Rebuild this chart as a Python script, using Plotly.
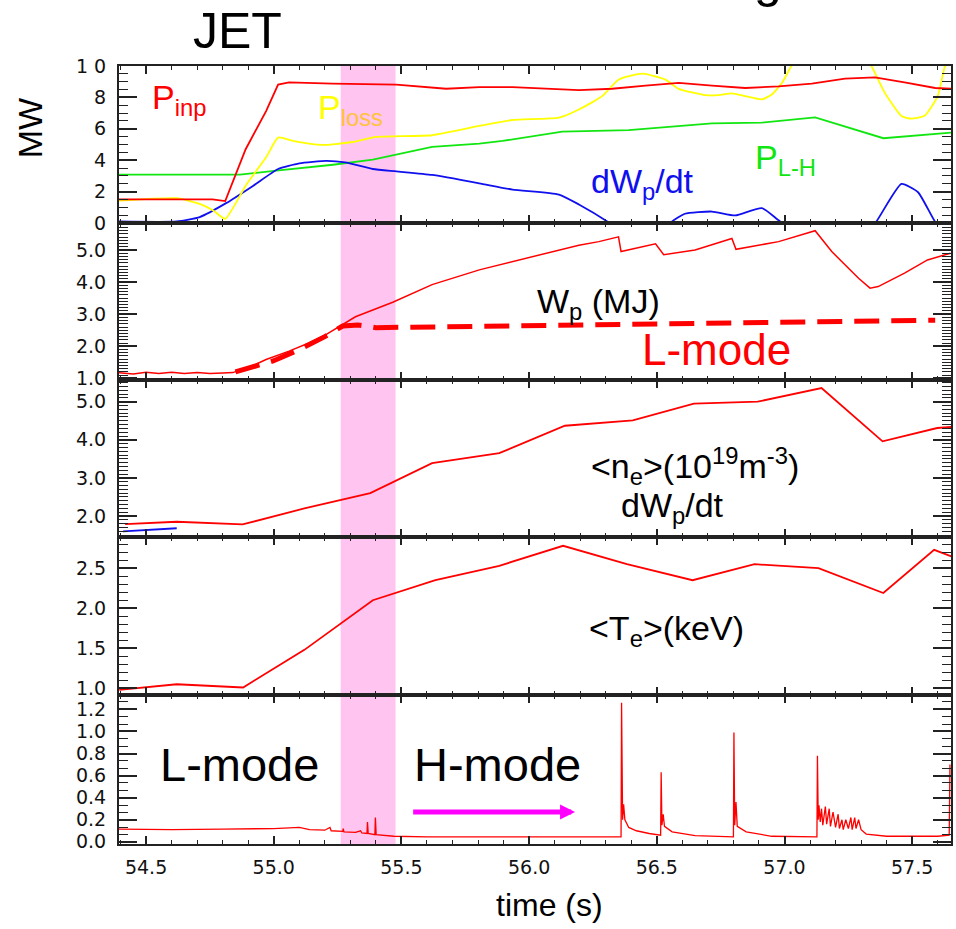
import plotly.graph_objects as go

# ---------------- data ----------------
# Panel 1: powers (MW)
t_pinp = [54.39, 54.645, 54.76, 54.81, 54.89, 54.97, 55.017, 55.06, 55.23, 55.48, 55.62, 55.675, 55.805,
          55.935, 56.195, 56.325, 56.456, 56.586, 56.716, 56.846, 56.977, 57.107, 57.237, 57.354, 57.47, 57.59, 57.654]
pinp = [1.5, 1.5, 1.5, 1.4, 4.7, 7.13, 8.82, 8.96, 8.88, 8.82, 8.6, 8.55, 8.65,
        8.65, 8.46, 8.55, 8.75, 8.92, 8.75, 8.6, 8.7, 8.88, 9.2, 9.28, 8.96, 8.6, 8.55]

t_ploss = [54.39, 54.62, 54.71, 54.763, 54.81, 54.89, 54.97, 55.017, 55.075, 55.19, 55.31, 55.40, 55.62, 55.805,
           55.935, 56.117, 56.195, 56.286, 56.35, 56.443, 56.534, 56.586, 56.69, 56.742, 56.794, 56.846, 56.911,
           56.95, 56.99, 57.028, 57.08, 57.29, 57.341, 57.393, 57.458, 57.497, 57.55, 57.60, 57.628, 57.66]
ploss = [1.43, 1.58, 1.22, 0.8, 0.27, 2.38, 4.18, 5.44, 5.23, 4.97, 5.16, 5.48, 5.59, 6.18,
         6.56, 6.71, 7.23, 8.08, 9.13, 9.51, 9.13, 8.54, 8.14, 8.14, 8.25, 8.08, 7.87,
         8.18, 8.92, 10.04, 11.5, 11.5, 10.0, 8.29, 6.81, 6.65, 6.85, 8.08, 9.97, 11.0]

t_plh = [54.39, 54.867, 55.01, 55.232, 55.388, 55.492, 55.62, 55.805, 55.896, 56.13, 56.39, 56.716, 56.911,
         57.12, 57.387, 57.654]
plh = [3.08, 3.08, 3.33, 3.71, 4.03, 4.39, 4.85, 5.06, 5.23, 5.82, 5.92, 6.35, 6.39, 6.73, 5.4, 5.76]

t_dwdt = [54.39, 54.62, 54.71, 54.815, 54.92, 55.017, 55.1, 55.206, 55.28, 55.388, 55.48, 55.62, 55.805,
          55.935, 56.117, 56.195, 56.306, 56.4, 56.5, 56.56, 56.61, 56.716, 56.807, 56.911, 56.983, 57.1,
          57.3, 57.36, 57.458, 57.523, 57.589, 57.65]
dwdt = [0.1, 0.1, 0.38, 1.28, 2.38, 3.44, 3.8, 3.96, 3.86, 3.44, 3.29, 3.06, 2.53,
        2.13, 1.81, 1.18, 0.1, -1.0, -1.0, 0.1, 0.59, 0.73, 0.48, 0.95, 0.1, -1.0,
        -1.0, 0.1, 2.49, 1.96, 0.1, -1.0]

# Panel 2: stored energy (MJ)
t_wp = [54.39, 54.45, 54.5, 54.55, 54.6, 54.65, 54.7, 54.75, 54.8, 54.84, 54.93, 54.97, 55.06, 55.14, 55.206,
        55.28, 55.32, 55.466, 55.62, 55.805, 55.934, 56.065, 56.195, 56.273, 56.35, 56.36, 56.495, 56.527,
        56.65, 56.794, 56.81, 56.977, 57.12, 57.185, 57.237, 57.29, 57.335, 57.367, 57.47, 57.56, 57.65]
wp = [1.18, 1.14, 1.19, 1.15, 1.19, 1.15, 1.18, 1.15, 1.17, 1.18, 1.44, 1.59, 1.85, 2.11, 2.37,
      2.73, 2.92, 3.37, 3.92, 4.38, 4.64, 4.90, 5.15, 5.26, 5.41, 4.95, 5.19, 4.85,
      5.0, 5.36, 5.02, 5.26, 5.6, 4.95, 4.54, 4.12, 3.81, 3.86, 4.28, 4.69, 4.90]

t_lmode = [54.85, 55.0, 55.1, 55.2, 55.27, 55.33, 55.4, 57.59]
wp_lmode = [1.2, 1.55, 1.9, 2.3, 2.63, 2.66, 2.58, 2.81]

# Panel 3: density
t_ne = [54.418, 54.62, 54.878, 55.12, 55.378, 55.62, 55.883, 56.14, 56.406, 56.645, 56.895, 57.145, 57.384,
        57.598, 57.66]
ne = [1.79, 1.85, 1.78, 2.2, 2.6, 3.39, 3.65, 4.37, 4.51, 4.95, 5.0, 5.36, 3.96, 4.31, 4.34]
t_ne_blue = [54.41, 54.62]
ne_blue = [1.6, 1.68]

# Panel 4: temperature
t_te = [54.395, 54.62, 54.88, 55.12, 55.388, 55.633, 55.883, 56.133, 56.383, 56.64, 56.883, 57.133, 57.387,
        57.586, 57.66]
te = [0.98, 1.05, 1.01, 1.48, 2.10, 2.35, 2.53, 2.78, 2.55, 2.35, 2.55, 2.50, 2.19, 2.73, 2.64]

# Panel 5: D-alpha
t_da = [54.39, 54.6, 54.8, 55.0, 55.1, 55.14, 55.2, 55.22, 55.225, 55.27, 55.272, 55.275, 55.32, 55.34, 55.345,
        55.365, 55.367, 55.37, 55.396, 55.398, 55.401, 55.47, 55.6, 56.0, 56.36, 56.362, 56.366, 56.370,
        56.375, 56.39, 56.42, 56.47, 56.515, 56.517, 56.52, 56.525, 56.53, 56.56, 56.65, 56.80, 56.802,
        56.805, 56.81, 56.815, 56.85, 56.95, 57.127, 57.129, 57.132, 57.135, 57.14, 57.145, 57.15, 57.16,
        57.165, 57.175, 57.18, 57.19, 57.2, 57.21, 57.215, 57.225, 57.23, 57.24, 57.25, 57.26, 57.265,
        57.275, 57.28, 57.29, 57.30, 57.32, 57.4, 57.6, 57.645, 57.648]
da = [0.115, 0.11, 0.115, 0.12, 0.13, 0.11, 0.105, 0.13, 0.1, 0.095, 0.12, 0.09, 0.085, 0.10, 0.08,
      0.075, 0.18, 0.075, 0.065, 0.22, 0.065, 0.05, 0.045, 0.045, 0.045, 1.26, 0.2, 0.34,
      0.2, 0.13, 0.1, 0.075, 0.06, 0.63, 0.15, 0.25, 0.14, 0.09, 0.055, 0.045, 0.99,
      0.15, 0.36, 0.14, 0.09, 0.05, 0.045, 0.78, 0.2, 0.33, 0.18, 0.3, 0.15, 0.32,
      0.16, 0.3, 0.14, 0.27, 0.13, 0.25, 0.12, 0.2, 0.11, 0.2, 0.12, 0.22, 0.11,
      0.22, 0.12, 0.2, 0.11, 0.07, 0.05, 0.05, 0.06, 0.7]

band = [55.262, 55.477]
xrange_ = [54.394, 57.652]

# ---------------- figure ----------------
W, H = 956, 929
L, R, T, B = 119, 3, 66, 85
PW, PH = W - L - R, H - T - B


def px(x):
    return (x - L) / PW


def py(y):
    return (H - B - y) / PH


# panel pixel boundaries (top, bottom)
edges = [(66, 223), (223, 380), (380, 537), (537, 695), (695, 844)]
domains = [[py(b), py(t)] for t, b in edges]

RED, YEL, GRN, BLU = "#FF0000", "#FFFF00", "#11E611", "#1010EE"

fig = go.Figure()
fig.add_trace(go.Scatter(x=t_plh, y=plh, mode="lines", line=dict(color=GRN, width=1.8), xaxis="x", yaxis="y"))
fig.add_trace(go.Scatter(x=t_dwdt, y=dwdt, mode="lines", line=dict(color=BLU, width=1.8, shape="spline", smoothing=0.5), xaxis="x", yaxis="y"))
fig.add_trace(go.Scatter(x=t_ploss, y=ploss, mode="lines", line=dict(color=YEL, width=1.8, shape="spline", smoothing=0.5), xaxis="x", yaxis="y"))
fig.add_trace(go.Scatter(x=t_pinp, y=pinp, mode="lines", line=dict(color=RED, width=1.8), xaxis="x", yaxis="y"))

fig.add_trace(go.Scatter(x=t_lmode, y=wp_lmode, mode="lines", line=dict(color=RED, width=5, dash="25px,12px"), xaxis="x2", yaxis="y2"))
fig.add_trace(go.Scatter(x=t_wp, y=wp, mode="lines", line=dict(color=RED, width=1.5), xaxis="x2", yaxis="y2"))

fig.add_trace(go.Scatter(x=t_ne_blue, y=ne_blue, mode="lines", line=dict(color=BLU, width=1.8), xaxis="x3", yaxis="y3"))
fig.add_trace(go.Scatter(x=t_ne, y=ne, mode="lines", line=dict(color=RED, width=1.8), xaxis="x3", yaxis="y3"))

fig.add_trace(go.Scatter(x=t_te, y=te, mode="lines", line=dict(color=RED, width=1.8), xaxis="x4", yaxis="y4"))

fig.add_trace(go.Scatter(x=t_da, y=da, mode="lines", line=dict(color=RED, width=1.3), xaxis="x5", yaxis="y5"))

AX = "#222222"
xcommon = dict(range=xrange_, showgrid=False, zeroline=False, showline=True, linecolor=AX, linewidth=2,
               mirror="allticks", ticks="inside", ticklen=8, tickwidth=1.5, tickcolor=AX,
               tick0=54.5, dtick=0.5, tickformat=".1f",
               minor=dict(ticks="inside", ticklen=4, tickwidth=1.2, tickcolor=AX, tick0=54.5, dtick=0.1),
               tickfont=dict(family="DejaVu Sans", size=19, color="#111"), ticklabelstandoff=5)
ycommon = dict(showgrid=False, zeroline=False, showline=True, linecolor=AX, linewidth=2,
               mirror="allticks", ticks="inside", ticklen=18, tickwidth=1.5, tickcolor=AX,
               tickfont=dict(family="DejaVu Sans", size=19, color="#111"), ticklabelstandoff=7)

yspecs = [
    dict(range=[0.0, 10.0], tickvals=[0, 2, 4, 6, 8, 10], ticktext=["0", "2", "4", "6", "8", "1 0"],
         minor=dict(ticks="inside", ticklen=9, tickwidth=1.2, tickcolor=AX, tick0=0, dtick=0.5)),
    dict(range=[0.95, 5.84], tickvals=[1, 2, 3, 4, 5], tickformat=".1f",
         minor=dict(ticks="inside", ticklen=9, tickwidth=1.2, tickcolor=AX, tick0=0, dtick=0.1)),
    dict(range=[1.45, 5.57], tickvals=[2, 3, 4, 5], tickformat=".1f",
         minor=dict(ticks="inside", ticklen=9, tickwidth=1.2, tickcolor=AX, tick0=0, dtick=0.1)),
    dict(range=[0.916, 2.89], tickvals=[1.0, 1.5, 2.0, 2.5], tickformat=".1f",
         minor=dict(ticks="inside", ticklen=9, tickwidth=1.2, tickcolor=AX, tick0=0, dtick=0.1)),
    dict(range=[-0.02, 1.33], tickvals=[0, 0.2, 0.4, 0.6, 0.8, 1.0, 1.2], tickformat=".1f",
         minor=dict(ticks="inside", ticklen=9, tickwidth=1.2, tickcolor=AX, tick0=0, dtick=0.2 / 3)),
]

layout = dict(width=W, height=H, margin=dict(l=L, r=R, t=T, b=B), showlegend=False,
              paper_bgcolor="white", plot_bgcolor="rgba(0,0,0,0)",
              font=dict(family="Liberation Sans, Arial", color="black"))
for i in range(5):
    n = "" if i == 0 else str(i + 1)
    xa = dict(xcommon, domain=[0, 1], anchor="y" + n, showticklabels=(i == 4))
    if i > 0:
        xa["matches"] = "x"
    ya = dict(ycommon, **yspecs[i])
    ya["domain"] = domains[i]
    ya["anchor"] = "x" + n
    layout["xaxis" + n] = xa
    layout["yaxis" + n] = ya
fig.update_layout(**layout)

# pink transition band
fig.add_shape(type="rect", xref="x", yref="paper", x0=band[0], x1=band[1], y0=0, y1=1,
              fillcolor="#FFC4EF", line=dict(width=0), layer="below")


def ann(text, x, y, size, color="black", xanchor="left", yanchor="middle", **kw):
    fig.add_annotation(text=text, x=px(x), y=py(y), xref="paper", yref="paper", showarrow=False,
                       xanchor=xanchor, yanchor=yanchor, font=dict(size=size, color=color,
                       family="Liberation Sans, Arial"), **kw)


ann("JET", 238, 31, 50, xanchor="center")
ann("g", 770, -20, 50, xanchor="center")
ann("MW", 30, 128, 34, xanchor="center", textangle=-90)
ann("P<sub>inp</sub>", 150, 99, 34, RED)
ann("P<sub><span style='color:#FFC23C'>loss</span></sub>", 316, 109, 34, YEL)
ann("dW<sub>p</sub>/dt", 590, 183, 34, BLU)
ann("P<sub>L-H</sub>", 755, 160, 34, GRN)
ann("W<sub>p</sub> (MJ)", 536, 303, 34)
ann("L-mode", 641, 349, 44, RED)
ann("&lt;n<sub>e</sub>&gt;(10<sup>19</sup>m<sup>-3</sup>)", 590, 466, 34)
ann("dW<sub>p</sub>/dt", 620, 507, 34)
ann("&lt;T<sub>e</sub>&gt;(keV)", 588, 630, 34)
ann("L-mode", 158, 764, 47)
ann("H-mode", 413, 764, 47)
ann("time (s)", 551, 905, 32, xanchor="center")

# arrow (H-mode)
fig.add_annotation(x=56.18, y=0.27, ax=55.54, ay=0.27, xref="x5", yref="y5", axref="x5", ayref="y5",
                   showarrow=True, arrowhead=2, arrowsize=0.6, arrowwidth=5, arrowcolor="#FF00FF", text="")

fig.write_html("out.html")
